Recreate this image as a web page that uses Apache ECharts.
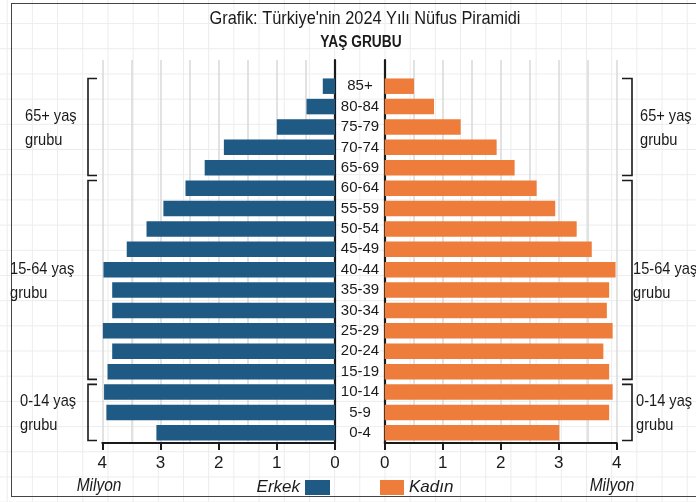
<!DOCTYPE html>
<html><head><meta charset="utf-8">
<script src="https://cdn.jsdelivr.net/npm/echarts@6.0.0/dist/echarts.min.js"></script>
<style>
html,body{margin:0;padding:0;background:#fff;}
#wrap{position:relative;width:696px;height:502px;overflow:hidden;
 background-image:linear-gradient(to right,#ececec 1px,transparent 1px),linear-gradient(to bottom,#ececec 1px,transparent 1px);
 background-size:25.2px 25.2px;background-position:6.7px 23.1px;}
#frame{position:absolute;left:11px;top:3px;width:720px;height:492px;border:1.5px solid #444;}
#chart{position:absolute;left:0;top:0;width:696px;height:502px;}
</style></head>
<body><div id="wrap"><div id="frame"></div><div id="chart"></div></div>
<script>
const categories = ['0-4','5-9','10-14','15-19','20-24','25-29','30-34','35-39','40-44','45-49','50-54','55-59','60-64','65-69','70-74','75-79','80-84','85+'];
const erkek = [3.07,3.93,3.97,3.91,3.83,3.99,3.83,3.83,3.98,3.58,3.24,2.95,2.57,2.24,1.91,1.00,0.49,0.21];
const kadin = [3.01,3.87,3.93,3.87,3.77,3.93,3.83,3.87,3.98,3.57,3.31,2.94,2.62,2.24,1.93,1.31,0.85,0.505];
const axisTicks = [0,1,2,3,4];
const groupLabels = ['0-14 yaş\ngrubu','15-64 yaş\ngrubu','65+ yaş\ngrubu'];
const groupFrom = ['0-4','15-19','65-69'];
const groupTo = ['10-14','60-64','85+'];
const titleText = "Grafik: Türkiye'nin 2024 Yılı Nüfus Piramidi";
const subTitleText = 'YAŞ GRUBU';

const FONT = '"Liberation Sans",Arial,sans-serif';
const BLUE = '#1f5a84', ORANGE = '#ee7c3b', INK = '#1a1a1a';
const chart = echarts.init(document.getElementById('chart'), null, {renderer:'canvas'});

const barGridL = {left:102.3, top:76, width:232.7, height:367};
const barGridR = {left:384.7, top:76, width:232, height:367};
const decoGridL = {left:102.3, top:60, width:232.7, height:383};
const decoGridR = {left:384.7, top:60, width:232, height:383};

function valueAxis(grid, inverse, showLabels){
  return {type:'value', gridIndex:grid, min:0, max:4, interval: showLabels?1:0.5, inverse:inverse,
    axisLine:{show:showLabels, onZero:false, lineStyle:{color:INK, width:2}},
    axisTick:{show:showLabels, length:7, lineStyle:{color:INK, width:2}},
    axisLabel:{show:showLabels, margin:12, fontSize:17, color:INK, fontFamily:FONT,
      formatter: v => axisTicks.includes(v) ? String(v) : ''},
    splitLine:{show:!showLabels, lineStyle:{color:'#d9d9d9', width:1.5}}};
}

chart.setOption({
  animation:false,
  grid:[barGridL, barGridR, decoGridL, decoGridR],
  xAxis:[valueAxis(0,true,true), valueAxis(1,false,true), valueAxis(2,true,false), valueAxis(3,false,false)],
  yAxis:[
    {type:'category', gridIndex:0, data:categories, position:'right',
      axisLine:{show:false}, axisTick:{show:false},
      axisLabel:{margin:25, align:'center', fontSize:15, color:INK, fontFamily:FONT}},
    {type:'category', gridIndex:1, data:categories, show:false},
    {type:'value', gridIndex:2, position:'right', min:0, max:1, axisLabel:{show:false}, axisTick:{show:false}, splitLine:{show:false},
      axisLine:{show:true, onZero:false, lineStyle:{color:INK, width:2.2}}},
    {type:'value', gridIndex:3, position:'left', min:0, max:1, axisLabel:{show:false}, axisTick:{show:false}, splitLine:{show:false},
      axisLine:{show:true, onZero:false, lineStyle:{color:INK, width:2.2}}}
  ],
  legend:[
    {data:['Erkek'], align:'right', right:366, top:479, padding:0, itemWidth:25, itemHeight:15, itemGap:4, icon:'rect',
      selectedMode:false, textStyle:{fontSize:17, fontStyle:'italic', color:INK, fontFamily:FONT}},
    {data:['Kadın'], left:380, top:479, padding:0, itemWidth:24, itemHeight:15, icon:'rect',
      selectedMode:false, textStyle:{fontSize:17, fontStyle:'italic', color:INK, fontFamily:FONT}}
  ],
  series:[
    {name:'Erkek', type:'bar', xAxisIndex:0, yAxisIndex:0, data:erkek, barWidth:15.5, itemStyle:{color:BLUE}},
    {name:'Kadın', type:'bar', xAxisIndex:1, yAxisIndex:1, data:kadin, barWidth:15.5, itemStyle:{color:ORANGE}}
  ]
});

// annotations derived from the category scale
const c0 = chart.convertToPixel({yAxisIndex:0}, categories[0]);
const c1 = chart.convertToPixel({yAxisIndex:0}, categories[1]);
const half = Math.abs(c0 - c1) / 2;
const leftX = [20, 10, 25], rightX = [636, 633, 640];
function txt(text, x, y, size, align, extra){
  return {type:'text', x:x, y:y, scaleX:0.86, style:Object.assign({text:text, x:0, y:0, align:align, verticalAlign:'middle', fontSize:size, fill:INK, fontFamily:FONT}, extra||{})};
}
const els = [
  txt(titleText, 365, 19, 19, 'center'),
  txt(subTitleText, 361, 43, 16, 'center', {fontWeight:'bold'}),
  txt('Milyon', 99, 486, 18, 'center', {fontStyle:'italic'}),
  txt('Milyon', 612, 486, 18, 'center', {fontStyle:'italic'})
];
groupLabels.forEach((lab, i) => {
  const yb = chart.convertToPixel({yAxisIndex:0}, groupFrom[i]) + half - 2.5;
  const yt = chart.convertToPixel({yAxisIndex:0}, groupTo[i]) - half + 2.5;
  const yc = (yb + yt) / 2 + 1;
  els.push({type:'polyline', shape:{points:[[97,yt],[88,yt],[88,yb],[97,yb]]}, style:{stroke:INK, lineWidth:1.6, fill:null}});
  els.push({type:'polyline', shape:{points:[[622,yt],[632,yt],[632,yb],[622,yb]]}, style:{stroke:INK, lineWidth:1.6, fill:null}});
  els.push(txt(lab, leftX[i], yc, 17, 'left', {lineHeight:24}));
  els.push(txt(lab, rightX[i], yc, 17, 'left', {lineHeight:24}));
});
chart.setOption({graphic:{elements:els}});
</script></body></html>
